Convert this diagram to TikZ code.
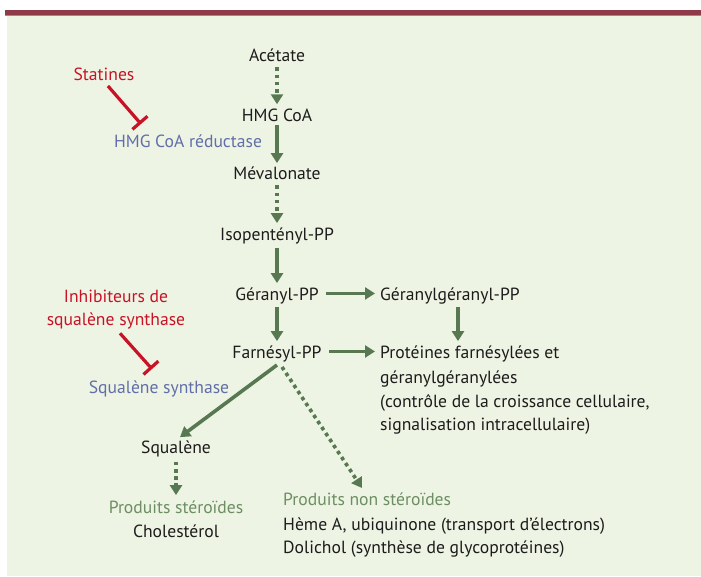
\documentclass[tikz,border=0pt]{standalone}
\usepackage{fontspec}
\setmainfont{PT Sans}
\usetikzlibrary{arrows.meta}
\definecolor{bg}{RGB}{238,244,228}
\definecolor{barcol}{RGB}{142,58,72}
\definecolor{barlite}{RGB}{196,120,132}
\definecolor{arr}{RGB}{88,120,82}
\definecolor{inh}{RGB}{200,18,38}
\definecolor{enz}{RGB}{98,110,168}
\definecolor{gtxt}{RGB}{108,142,98}
\definecolor{txt}{RGB}{28,28,28}
\tikzset{
  lbl/.style={anchor=base, inner sep=0pt, text=txt},
  lblw/.style={anchor=base west, inner sep=0pt, text=txt},
  flow/.style={draw=arr, line width=3.6pt, -{Triangle[length=10pt,width=12pt]}},
  dflow/.style={flow, dash pattern=on 3.6pt off 3.6pt},
  inhib/.style={draw=inh, line width=3.2pt, -{Bar[width=20pt,line width=3.2pt]}},
}
\begin{document}
\begin{tikzpicture}[x=1pt,y=-1pt, font=\fontsize{17.6}{20}\selectfont]
\useasboundingbox (0,0) rectangle (701,577);
\fill[white] (0,0) rectangle (701,577);
\fill[bg] (7,16) rectangle (701,576);
\fill[barcol] (5,10) rectangle (701,15);
\fill[barlite] (5,15) rectangle (701,16);

% main chain
\node[lbl] (ace) at (277,62) {Acétate};
\node[lbl] (hmg) at (277,122) {HMG CoA};
\node[lbl] (mev) at (277,180) {Mévalonate};
\node[lbl] (ipp) at (277,241) {Isopentényl-PP};
\node[lbl] (gpp) at (277,300) {Géranyl-PP};
\node[lbl] (fpp) at (277,358) {Farnésyl-PP};
\node[lblw] (ggpp) at (380,300) {Géranylgéranyl-PP};
\node[lblw] (prot1) at (380,358) {Protéines farnésylées et};
\node[lblw] (prot2) at (380,383) {géranylgéranylées};
\node[lblw] (prot3) at (380,407) {(contrôle de la croissance cellulaire,};
\node[lblw] (prot4) at (380,430) {signalisation intracellulaire)};
\node[lbl] (sq) at (176,453) {Squalène};
\node[lbl, text=gtxt] (ps) at (176,513) {Produits stéroïdes};
\node[lbl] (chol) at (176,537) {Cholestérol};
\node[lblw, text=gtxt] (pns) at (283,505) {Produits non stéroïdes};
\node[lblw] (heme) at (283,530) {Hème A, ubiquinone (transport d’électrons)};
\node[lblw] (doli) at (283,553) {Dolichol (synthèse de glycoprotéines)};

% inhibitors and enzymes
\node[lbl, text=inh] (stat) at (104,81) {Statines};
\node[lbl, text=enz] (hmgr) at (188,148) {HMG CoA réductase};
\node[lbl, text=inh] (inh1) at (116,302) {Inhibiteurs de};
\node[lbl, text=inh] (inh2) at (116,325) {squalène synthase};
\node[lbl, text=enz] (sqs) at (159,393) {Squalène synthase};

% arrows
\draw[dflow, shorten <=5pt, shorten >=5pt] (ace.south) -- (hmg.north);
\draw[flow, shorten <=3pt, shorten >=4pt] (hmg.south) -- (mev.north);
\draw[dflow, shorten <=5pt, shorten >=5pt] (mev.south) -- (ipp.north);
\draw[flow, shorten <=3pt, shorten >=4pt] (ipp.south) -- (gpp.north);
\draw[flow, shorten <=3pt, shorten >=4pt] (gpp.south) -- (fpp.north);
\draw[flow, shorten <=7pt, shorten >=5pt] ([yshift=2pt]gpp.east) -- ([yshift=2pt]gpp.east -| ggpp.west);
\draw[flow, shorten <=7pt, shorten >=5pt] ([yshift=2pt]fpp.east) -- ([yshift=2pt]fpp.east -| prot1.west);
\draw[flow, shorten <=3pt, shorten >=4pt] (ggpp.south -| 458,0) -- (prot1.north -| 458,0);
\coordinate (fppfoot) at (277,365);
\coordinate (fppfoot2) at (282,367);
\coordinate (pnstip) at (362,488);
\draw[flow, shorten >=5pt] (fppfoot) -- (sq.north);
\draw[dflow] (fppfoot2) -- (pnstip);
\draw[dflow, shorten <=5pt, shorten >=5pt] (sq.south) -- (ps.north);

\coordinate (statend) at (141,124);
\coordinate (inhend) at (152,369);
\draw[inhib, shorten <=6pt] (stat.south) -- (statend);
\draw[inhib, shorten <=6pt] (inh2.south) -- (inhend);
\end{tikzpicture}
\end{document}
